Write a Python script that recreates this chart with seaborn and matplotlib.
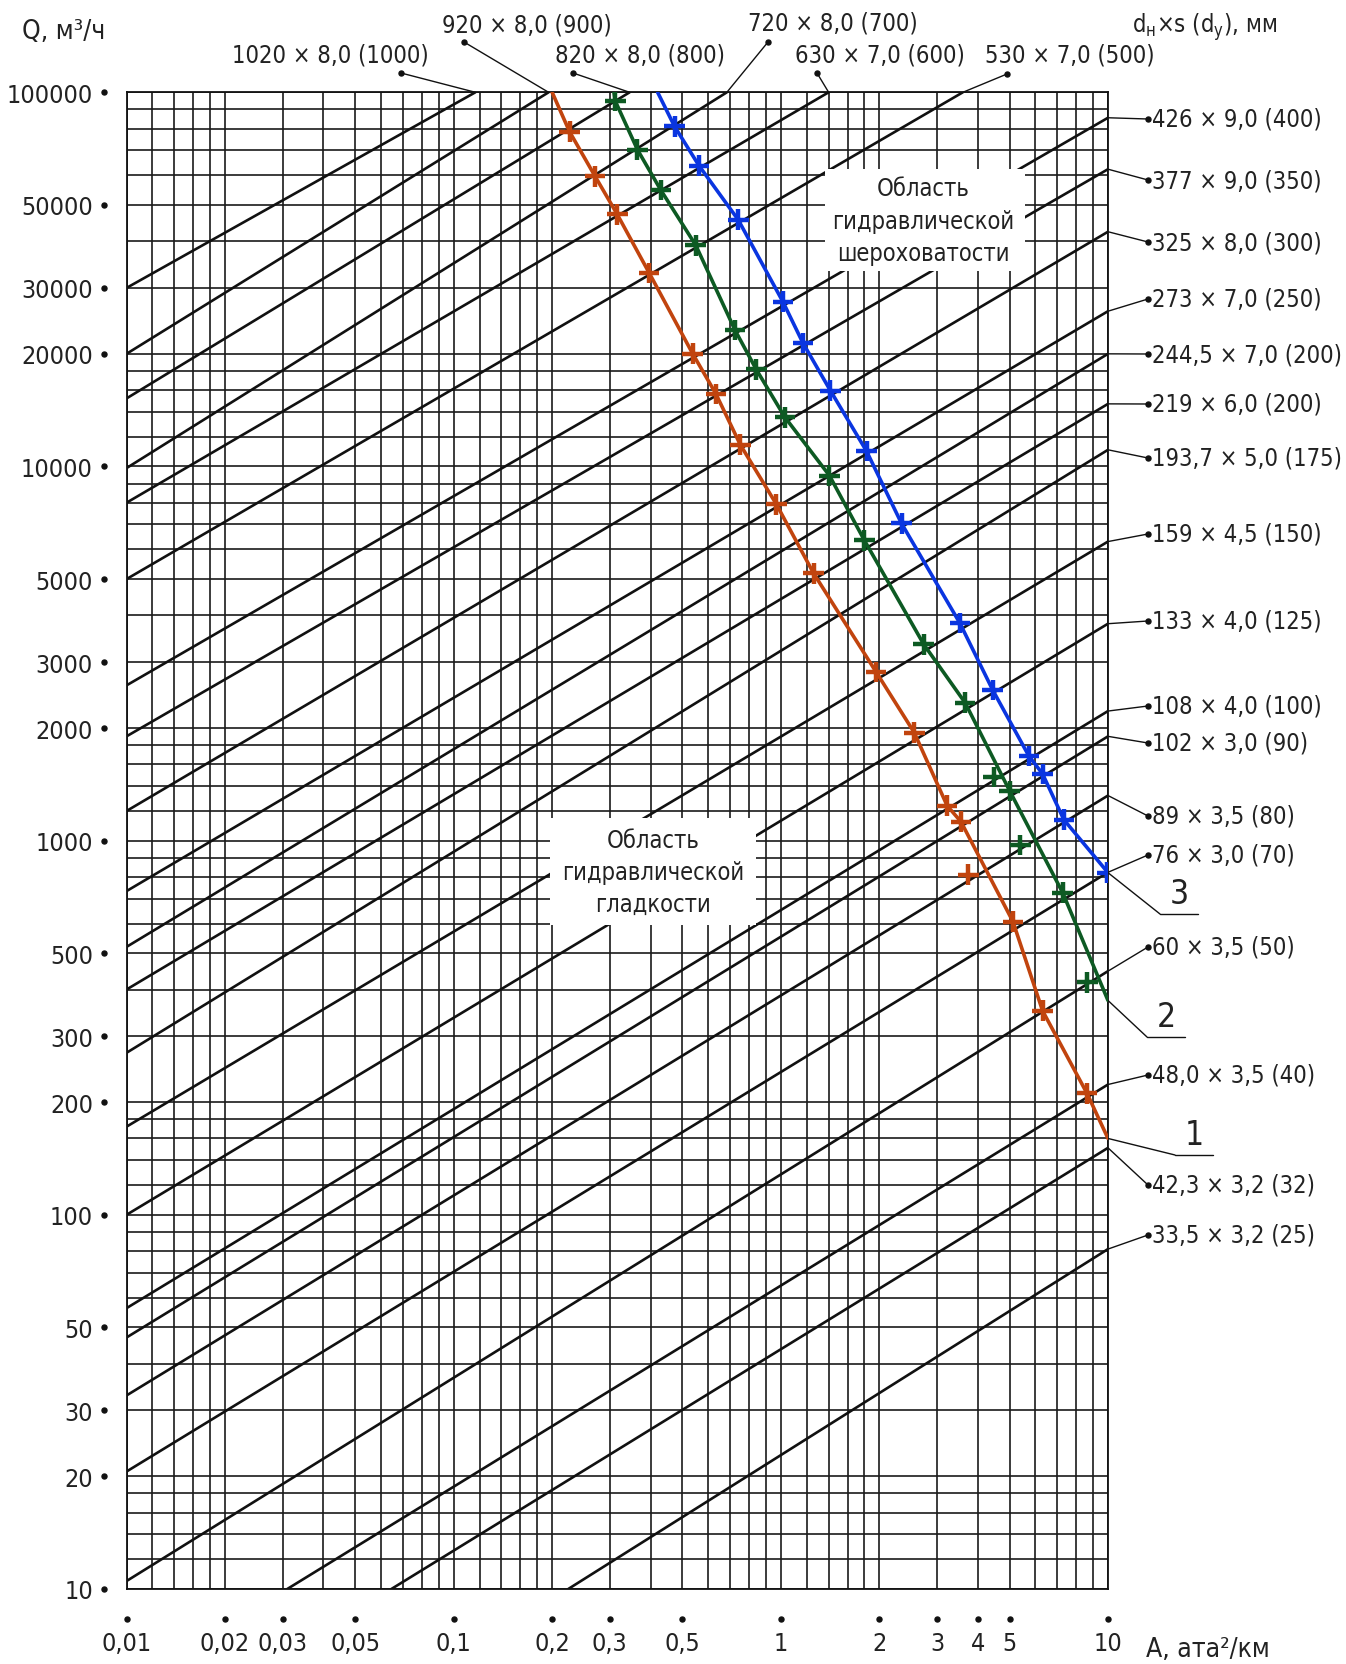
import numpy as np
import pandas as pd
import seaborn as sns
import matplotlib
matplotlib.use("Agg")
import matplotlib.pyplot as plt
from matplotlib import font_manager as fm
from matplotlib.patches import Rectangle
from matplotlib.ticker import FixedLocator, NullFormatter
from matplotlib.transforms import Affine2D

# ---------------------------------------------------------------- data ----
# Steel pipes: outer diameter x wall thickness (nominal bore), mm
pipe_labels = [
    "1020 × 8,0 (1000)", "920 × 8,0 (900)", "820 × 8,0 (800)",
    "720 × 8,0 (700)", "630 × 7,0 (600)", "530 × 7,0 (500)",
    "426 × 9,0 (400)", "377 × 9,0 (350)", "325 × 8,0 (300)",
    "273 × 7,0 (250)", "244,5 × 7,0 (200)", "219 × 6,0 (200)",
    "193,7 × 5,0 (175)", "159 × 4,5 (150)", "133 × 4,0 (125)",
    "108 × 4,0 (100)", "102 × 3,0 (90)", "89 × 3,5 (80)",
    "76 × 3,0 (70)", "60 × 3,5 (50)", "48,0 × 3,5 (40)",
    "42,3 × 3,2 (32)", "33,5 × 3,2 (25)",
]
pipe_a_start = [0.01, 0.01, 0.01, 0.01, 0.01, 0.01, 0.01, 0.01, 0.01, 0.01,
                0.01, 0.01, 0.01, 0.01, 0.01, 0.01, 0.01, 0.01, 0.01, 0.01,
                0.031, 0.0645, 0.224]
pipe_q_start = [30000, 20000, 15200, 9900, 8000, 5000, 2600, 1900, 1200, 733,
                520, 400, 271, 172, 100, 56.3, 47.0, 32.9, 20.6, 10.5,
                10, 10, 10]
pipe_a_end = [0.1165, 0.195, 0.345, 0.684, 1.40, 3.6, 10, 10, 10, 10,
              10, 10, 10, 10, 10, 10, 10, 10, 10, 10, 10, 10, 10]
pipe_q_end = [100000, 100000, 100000, 100000, 100000, 100000, 85500, 62300,
              42400, 26000, 20000, 14700, 11080, 6300, 3800, 2220, 1900, 1320,
              823, 448, 223, 151, 81]

# Boundary curves 1, 2, 3 (line vertices)
curve1_a = [0.2, 0.226, 0.2705, 0.3163, 0.3958, 0.5373, 0.6333, 0.7519, 0.9692,
            1.259, 1.955, 2.557, 3.223, 3.552, 5.121, 6.31, 8.63, 10]
curve1_q = [100000, 78500, 59650, 47160, 32920, 20040, 15630, 11430, 7925,
            5183, 2824, 1945, 1240, 1124, 608, 351, 211, 160]
curve2_a = [0.309, 0.3117, 0.3646, 0.4297, 0.5496, 0.7244, 0.8411, 1.029, 1.408,
            1.801, 2.735, 3.659, 5.006, 7.271, 10]
curve2_q = [100000, 94840, 70230, 54780, 39010, 23140, 18170, 13540, 9454,
            6345, 3345, 2336, 1358, 725.5, 374]
curve3_a = [0.4202, 0.4733, 0.5621, 0.7408, 1.014, 1.168, 1.418, 1.828, 2.338,
            3.526, 4.443, 5.727, 6.310, 7.327, 10]
curve3_q = [100000, 81070, 63680, 45630, 27590, 21390, 15940, 10990, 7044,
            3813, 2526, 1685, 1508, 1138, 821]

# Cross marks on the curves
marks1_a = [0.226, 0.2705, 0.3163, 0.3958, 0.5373, 0.6333, 0.7519, 0.9692,
            1.259, 1.955, 2.557, 3.223, 3.552, 3.742, 5.121, 6.31, 8.63]
marks1_q = [78500, 59650, 47160, 32920, 20040, 15630, 11430, 7925,
            5183, 2824, 1945, 1240, 1124, 811, 608, 351, 211]
marks2_a = [0.3117, 0.3646, 0.4297, 0.5496, 0.7244, 0.8411, 1.029, 1.408,
            1.801, 2.735, 3.659, 4.476, 5.006, 5.395, 7.271, 8.65]
marks2_q = [94840, 70230, 54780, 39010, 23140, 18170, 13540, 9454,
            6345, 3345, 2336, 1479, 1358, 973, 725.5, 418]
marks3_a = [0.4733, 0.5621, 0.7408, 1.014, 1.168, 1.418, 1.828, 2.338,
            3.526, 4.443, 5.727, 6.310, 7.327, 9.96]
marks3_q = [81070, 63680, 45630, 27590, 21390, 15940, 10990, 7044,
            3813, 2526, 1685, 1508, 1138, 821.5]

x_ticks = [0.01, 0.02, 0.03, 0.05, 0.1, 0.2, 0.3, 0.5, 1, 2, 3, 4, 5, 10]
x_tick_labels = ["0,01", "0,02", "0,03", "0,05", "0,1", "0,2", "0,3", "0,5",
                 "1", "2", "3", "4", "5", "10"]
y_ticks = [10, 20, 30, 50, 100, 200, 300, 500, 1000, 2000, 3000, 5000,
           10000, 20000, 30000, 50000, 100000]
y_tick_labels = ["10", "20", "30", "50", "100", "200", "300", "500", "1000",
                 "2000", "3000", "5000", "10000", "20000", "30000", "50000",
                 "100000"]
grid_mantissas = [1, 1.2, 1.4, 1.6, 1.8, 2, 3, 4, 5, 6, 7, 8, 9]

# -------------------------------------------------------------- style -----
sns.set_theme(style="white")
names = {f.name for f in fm.fontManager.ttflist}
if "Liberation Sans Narrow" in names:
    plt.rcParams["font.family"] = ["Liberation Sans Narrow", "DejaVu Sans"]
    FS, FL = 21, 21
else:
    plt.rcParams["font.family"] = ["DejaVu Sans"]
    plt.rcParams["font.stretch"] = "condensed"
    FS, FL = 18, 17
plt.rcParams["mathtext.default"] = "regular"

W, H = 1346, 1665
L, R, T, B = 126.5, 1108.0, 93.3, 1590.0
INK = "#111111"
TXT = "#222222"
GRID = "#1a1a1a"
C1, C2, C3 = "#c1440e", "#0d5a23", "#0a35e0"

fig = plt.figure(figsize=(W / 100, H / 100), dpi=100, facecolor="white")
pix = Affine2D().scale(1 / W, -1 / H).translate(0, 1) + fig.transFigure
ax = fig.add_axes([L / W, (H - B) / H, (R - L) / W, (B - T) / H])
ax.set_facecolor("white")
ax.set_xscale("log")
ax.set_yscale("log")

# ------------------------------------------------------------- grid -------
grid_vals = [m * 10.0 ** k for k in range(-2, 5) for m in grid_mantissas]
gx = [v for v in grid_vals if 0.01 <= v <= 10]
gy = [v for v in grid_vals if 10 <= v <= 100000] + [100000]
ax.xaxis.set_minor_locator(FixedLocator(gx))
ax.yaxis.set_minor_locator(FixedLocator(gy))
ax.xaxis.set_minor_formatter(NullFormatter())
ax.yaxis.set_minor_formatter(NullFormatter())
ax.set_xticks(x_ticks)
ax.set_xticklabels(x_tick_labels)
ax.set_yticks(y_ticks)
ax.set_yticklabels(y_tick_labels)
ax.set_axisbelow(True)
ax.grid(True, which="both", color=GRID, lw=1.2)
ax.tick_params(which="minor", length=0)
ax.tick_params(axis="x", which="major", length=21.6, width=1.1, color=INK,
               pad=9, labelsize=FS, labelcolor=TXT)
ax.tick_params(axis="y", which="major", length=16.2, width=1.1, color=INK,
               pad=8, labelsize=FS, labelcolor=TXT)
for s in ax.spines.values():
    s.set_color(INK)
    s.set_linewidth(1.3)
ax.set_xlim(0.01, 10)
ax.set_ylim(10, 100000)

# dots at the ends of the tick stems
ax.plot(x_ticks, [-0.0200] * len(x_ticks), "o", ms=3.6, color=INK,
        transform=ax.get_xaxis_transform(), clip_on=False)
ax.plot([-0.0229] * len(y_ticks), y_ticks, "o", ms=3.6, color=INK,
        transform=ax.get_yaxis_transform(), clip_on=False)

# ------------------------------------------------------------ pipes -------
pipes = pd.DataFrame({
    "pipe": [p for p in pipe_labels for _ in range(2)],
    "A": [a for pair in zip(pipe_a_start, pipe_a_end) for a in pair],
    "Q": [q for pair in zip(pipe_q_start, pipe_q_end) for q in pair],
})
sns.lineplot(data=pipes, x="A", y="Q", units="pipe", estimator=None,
             color=INK, lw=1.9, ax=ax, legend=False, zorder=2)

# white fields with the region captions
for x0, y0, w, h in [(825, 170, 200, 102), (550, 819, 206, 107)]:
    ax.add_patch(Rectangle((x0, y0), w, h, transform=pix, facecolor="white",
                           edgecolor="none", zorder=3, clip_on=False))
for txt, cx, cy in [("Область", 923, 189), ("гидравлической", 923, 222),
                    ("шероховатости", 923, 254), ("Область", 653, 841),
                    ("гидравлической", 653, 873), ("гладкости", 653, 905)]:
    fig.text(cx, cy, txt, transform=pix, ha="center", va="center",
             fontsize=FL, color=TXT, zorder=4)

# ----------------------------------------------------------- curves -------
curves = pd.DataFrame({
    "curve": ["1"] * len(curve1_a) + ["2"] * len(curve2_a) + ["3"] * len(curve3_a),
    "A": curve1_a + curve2_a + curve3_a,
    "Q": curve1_q + curve2_q + curve3_q,
})
marks = pd.DataFrame({
    "curve": ["1"] * len(marks1_a) + ["2"] * len(marks2_a) + ["3"] * len(marks3_a),
    "A": marks1_a + marks2_a + marks3_a,
    "Q": marks1_q + marks2_q + marks3_q,
})
palette = {"1": C1, "2": C2, "3": C3}
sns.lineplot(data=curves, x="A", y="Q", hue="curve", palette=palette,
             estimator=None, sort=False, lw=2.6, ax=ax, legend=False, zorder=5)
sns.scatterplot(data=marks, x="A", y="Q", hue="curve", palette=palette,
                marker="+", s=220, linewidth=3.2, ax=ax, legend=False, zorder=6)
ax.set_xlabel("")
ax.set_ylabel("")

# ------------------------------------------------------------ labels ------
leader = dict(arrowstyle="-", lw=1.0, color=INK, shrinkA=0, shrinkB=0)

# top row: (text centre x, y, dot x, y) in pixels
top_layout = [(330, 55, 401, 74), (527, 25, 464, 43), (640, 55, 573, 74),
              (833, 23, 768, 43), (880, 55, 817, 74), (1070, 55, 1007, 75)]
for i, (tx, ty, dx, dy) in enumerate(top_layout):
    ax.annotate("", xy=(pipe_a_end[i], pipe_q_end[i]), xycoords="data",
                xytext=(dx, dy), textcoords=pix, arrowprops=leader,
                annotation_clip=False)
    ax.plot([dx], [dy], "o", ms=3.6, color=INK, transform=pix, clip_on=False)
    fig.text(tx, ty, pipe_labels[i], transform=pix, ha="center", va="center",
             fontsize=FL, color=TXT)

# right column: label centre y in pixels
right_y = [120, 181, 243, 300, 355, 405, 459, 535, 622, 707, 744, 817, 856,
           948, 1076, 1186, 1236]
for j, ly in enumerate(right_y):
    i = j + 6
    ax.annotate("", xy=(pipe_a_end[i], pipe_q_end[i]), xycoords="data",
                xytext=(1148, ly), textcoords=pix, arrowprops=leader,
                annotation_clip=False)
    ax.plot([1148], [ly], "o", ms=3.6, color=INK, transform=pix, clip_on=False)
    fig.text(1152, ly, pipe_labels[i], transform=pix, ha="left", va="center",
             fontsize=FL, color=TXT)

# curve numbers with leader and underline
num_layout = [("1", curve1_a[-1], curve1_q[-1], 1175, 1213, 1156),
              ("2", curve2_a[-1], curve2_q[-1], 1147, 1185, 1038),
              ("3", curve3_a[-1], curve3_q[-1], 1160, 1198, 915)]
for name, a, q, x0, x1, uy in num_layout:
    ax.annotate("", xy=(a, q), xycoords="data", xytext=(x0, uy),
                textcoords=pix, arrowprops=leader, annotation_clip=False)
    ax.plot([x0, x1], [uy, uy], color=INK, lw=1.0, transform=pix, clip_on=False)
    fig.text((x0 + x1) / 2, uy - 4, name, transform=pix, ha="center",
             va="bottom", fontsize=FS + 6, color=TXT)

# axis titles
fig.text(22, 32, "Q, м³/ч", transform=pix, ha="left", va="center",
         fontsize=FS + 1, color=TXT)
fig.text(1146, 1650, "A, ата²/км", transform=pix, ha="left", va="center",
         fontsize=FS + 1, color=TXT)
fig.text(1132, 27, r"d$_\mathregular{н}$×s (d$_\mathregular{у}$), мм",
         transform=pix, ha="left", va="center", fontsize=FL, color=TXT)

fig.savefig("out.png", dpi=100, facecolor="white")
